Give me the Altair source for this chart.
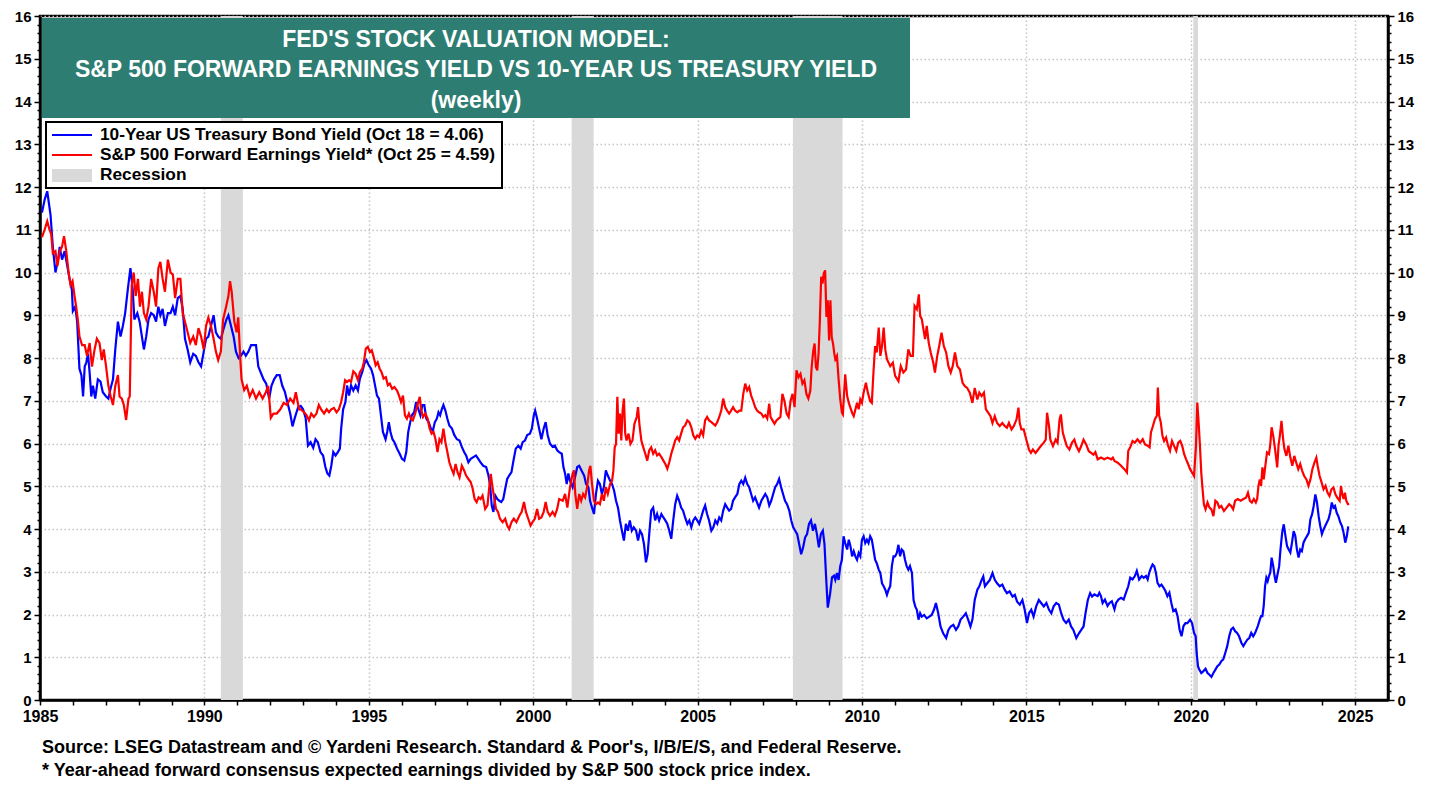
import altair as alt
import pandas as pd

FONT = "Liberation Sans"

# ---------------- data ----------------
bond_years = [
    1985.06, 1985.14, 1985.22, 1985.32, 1985.39, 1985.47, 1985.55, 1985.6, 1985.67, 1985.75, 1985.83, 1985.9, 1985.97,
    1986.0, 1986.07, 1986.13, 1986.2, 1986.26, 1986.31, 1986.36, 1986.41, 1986.46, 1986.51, 1986.56, 1986.61, 1986.68,
    1986.76, 1986.84, 1986.91, 1987.01, 1987.08, 1987.15, 1987.22, 1987.29, 1987.37, 1987.45, 1987.52, 1987.59, 1987.67,
    1987.75, 1987.82, 1987.87, 1987.96, 1988.03, 1988.1, 1988.16, 1988.23, 1988.3, 1988.38, 1988.46, 1988.53, 1988.6,
    1988.66, 1988.73, 1988.8, 1988.89, 1988.97, 1989.04, 1989.11, 1989.19, 1989.27, 1989.34, 1989.41, 1989.49, 1989.57,
    1989.66, 1989.74, 1989.82, 1989.9, 1989.98, 1990.05, 1990.12, 1990.2, 1990.28, 1990.35, 1990.42, 1990.5, 1990.59,
    1990.67, 1990.73, 1990.81, 1990.89, 1990.96, 1991.04, 1991.11, 1991.19, 1991.26, 1991.34, 1991.42, 1991.5, 1991.57,
    1991.64, 1991.72, 1991.8, 1991.88, 1991.97, 1992.04, 1992.12, 1992.2, 1992.29, 1992.37, 1992.45, 1992.53, 1992.61,
    1992.68, 1992.75, 1992.85,
    1992.93, 1993.0, 1993.08, 1993.15, 1993.23, 1993.31, 1993.38, 1993.45, 1993.53, 1993.61, 1993.68, 1993.74, 1993.8,
    1993.86, 1993.92, 1993.99, 1994.06, 1994.12, 1994.16, 1994.22, 1994.29, 1994.34, 1994.4, 1994.46, 1994.53, 1994.6,
    1994.67, 1994.73, 1994.8, 1994.87, 1994.93, 1995.0, 1995.07, 1995.13, 1995.19, 1995.25, 1995.31, 1995.37, 1995.43,
    1995.51, 1995.56, 1995.61, 1995.66, 1995.72, 1995.78, 1995.86, 1995.94, 1996.01, 1996.08, 1996.14, 1996.2, 1996.26,
    1996.31, 1996.38, 1996.44, 1996.51, 1996.57, 1996.63, 1996.69, 1996.75, 1996.82, 1996.89, 1996.95, 1997.01, 1997.07,
    1997.12, 1997.17, 1997.22, 1997.27, 1997.33, 1997.39, 1997.45, 1997.53, 1997.6, 1997.68, 1997.76, 1997.83, 1997.9,
    1997.96, 1998.03, 1998.1, 1998.18, 1998.26, 1998.33, 1998.4, 1998.48, 1998.57, 1998.64, 1998.69, 1998.74, 1998.79,
    1998.85, 1998.91, 1998.97, 1999.03, 1999.09, 1999.15, 1999.21, 1999.27, 1999.34, 1999.41, 1999.47, 1999.55, 1999.62,
    1999.68, 1999.75, 1999.82, 1999.9, 1999.96, 2000.02, 2000.06, 2000.12, 2000.18, 2000.25, 2000.32, 2000.38, 2000.44,
    2000.51, 2000.59, 2000.66, 2000.73, 2000.79,
    2000.87, 2000.92, 2000.97, 2001.02, 2001.07, 2001.12, 2001.2, 2001.27, 2001.34, 2001.4, 2001.47, 2001.55, 2001.61,
    2001.68, 2001.73, 2001.79, 2001.85, 2001.91, 2001.97, 2002.03, 2002.09, 2002.15, 2002.21, 2002.27, 2002.34, 2002.4,
    2002.46, 2002.52, 2002.58, 2002.64, 2002.7, 2002.76, 2002.82, 2002.88, 2002.94, 2003.0, 2003.06, 2003.13, 2003.19,
    2003.25, 2003.31, 2003.37, 2003.43, 2003.48, 2003.53, 2003.59, 2003.65, 2003.71, 2003.77, 2003.83, 2003.9, 2003.96,
    2004.02, 2004.08, 2004.14, 2004.2, 2004.26, 2004.32, 2004.38, 2004.44, 2004.5, 2004.56, 2004.62, 2004.69, 2004.75,
    2004.81, 2004.87, 2004.93, 2004.99, 2005.05, 2005.11, 2005.17, 2005.23, 2005.29, 2005.35, 2005.42, 2005.48, 2005.54,
    2005.6, 2005.66, 2005.72, 2005.78, 2005.84, 2005.9, 2005.96, 2006.02, 2006.08, 2006.14, 2006.21, 2006.27, 2006.33,
    2006.39, 2006.45, 2006.51, 2006.57, 2006.63, 2006.69, 2006.75, 2006.81, 2006.87, 2006.94, 2007.0, 2007.06, 2007.12,
    2007.18, 2007.24, 2007.3, 2007.36, 2007.42, 2007.48, 2007.54, 2007.6, 2007.66, 2007.72, 2007.79, 2007.85, 2007.91,
    2007.97, 2008.03, 2008.09, 2008.15, 2008.21, 2008.27, 2008.33, 2008.39, 2008.45, 2008.51, 2008.57, 2008.63, 2008.69,
    2008.75, 2008.81, 2008.86, 2008.91, 2008.96, 2009.03, 2009.09, 2009.15,
    2009.19, 2009.24, 2009.29, 2009.34, 2009.39, 2009.44, 2009.49, 2009.55, 2009.6, 2009.65, 2009.7, 2009.75, 2009.8,
    2009.85, 2009.9, 2009.95, 2010.0, 2010.05, 2010.1, 2010.15, 2010.2, 2010.25, 2010.3, 2010.35, 2010.4, 2010.45,
    2010.51, 2010.56, 2010.61, 2010.66, 2010.71, 2010.76, 2010.81, 2010.86, 2010.91, 2010.96, 2011.01, 2011.06, 2011.11,
    2011.16, 2011.21, 2011.26, 2011.31, 2011.36, 2011.41, 2011.46, 2011.52, 2011.57, 2011.62, 2011.67, 2011.72, 2011.77,
    2011.82, 2011.89, 2011.97, 2012.05, 2012.12, 2012.19, 2012.25, 2012.32, 2012.39, 2012.47, 2012.56, 2012.63, 2012.7,
    2012.78, 2012.86, 2012.93, 2013.0, 2013.08, 2013.16, 2013.23, 2013.3, 2013.36, 2013.43, 2013.51, 2013.57, 2013.64,
    2013.69, 2013.74, 2013.81, 2013.89, 2013.97, 2014.04, 2014.11, 2014.19, 2014.27, 2014.34, 2014.41, 2014.49, 2014.58,
    2014.65, 2014.72, 2014.8, 2014.88, 2014.95, 2015.02, 2015.08, 2015.15, 2015.22, 2015.3, 2015.38, 2015.45, 2015.53,
    2015.61, 2015.69, 2015.76, 2015.83, 2015.91, 2015.99, 2016.06, 2016.13, 2016.21, 2016.29, 2016.36, 2016.43, 2016.52,
    2016.6, 2016.67, 2016.74, 2016.8, 2016.87, 2016.94, 2017.0,
    2017.07, 2017.17, 2017.22, 2017.27, 2017.32, 2017.39, 2017.47, 2017.53, 2017.6, 2017.68, 2017.73, 2017.8, 2017.88,
    2017.96, 2018.03, 2018.1, 2018.16, 2018.23, 2018.3, 2018.36, 2018.43, 2018.51, 2018.57, 2018.64, 2018.69, 2018.74,
    2018.79, 2018.84, 2018.89, 2018.94, 2018.99, 2019.05, 2019.11, 2019.17, 2019.23, 2019.29, 2019.35, 2019.41, 2019.47,
    2019.54, 2019.6, 2019.66, 2019.72, 2019.78, 2019.84, 2019.9, 2019.98, 2020.04, 2020.1, 2020.15, 2020.18, 2020.22,
    2020.26, 2020.32, 2020.38, 2020.45, 2020.51, 2020.57, 2020.63, 2020.69, 2020.75, 2020.81, 2020.87, 2020.93, 2020.99,
    2021.05, 2021.11, 2021.17, 2021.23, 2021.29, 2021.35, 2021.41, 2021.47, 2021.54, 2021.6, 2021.66, 2021.72, 2021.78,
    2021.84, 2021.9, 2021.96, 2022.04, 2022.1, 2022.14, 2022.18, 2022.22, 2022.26, 2022.3, 2022.34, 2022.38, 2022.42,
    2022.46, 2022.51, 2022.55, 2022.59, 2022.63, 2022.69, 2022.73, 2022.78, 2022.83, 2022.88, 2022.93, 2022.98, 2023.03,
    2023.08, 2023.13, 2023.18, 2023.23, 2023.28, 2023.33, 2023.38, 2023.43, 2023.48, 2023.54, 2023.59, 2023.64, 2023.69,
    2023.74, 2023.79, 2023.84, 2023.89, 2023.94, 2023.99, 2024.04, 2024.09, 2024.14, 2024.19, 2024.24, 2024.29, 2024.34,
    2024.39, 2024.44, 2024.49, 2024.55, 2024.6, 2024.65, 2024.7, 2024.75, 2024.79,
]
bond_vals = [
    11.4, 11.7, 11.9, 11.35, 10.6, 10.0, 10.3, 10.6, 10.3, 10.5, 10.15, 9.85, 9.6,
    9.1, 9.2, 8.85, 7.75, 7.6, 7.1, 7.8, 7.9, 8.1, 7.65, 7.1, 7.35, 7.05,
    7.5, 7.45, 7.2, 7.1, 7.05, 7.3, 7.5, 8.2, 8.85, 8.5, 8.75, 9.05, 9.6,
    10.1, 9.6, 8.9, 9.05, 8.85, 8.5, 8.2, 8.5, 8.9, 9.05, 9.0, 8.85, 9.2,
    9.0, 9.15, 8.75, 9.05, 9.05, 9.2, 9.0, 9.4, 9.45, 9.15, 8.45, 8.2, 7.9,
    8.1, 8.05, 7.9, 7.8, 8.15, 8.45, 8.5, 8.75, 9.0, 8.6, 8.5, 8.45, 8.7,
    8.9, 9.0, 8.75, 8.5, 8.15, 8.0, 8.05, 8.15, 8.05, 8.15, 8.3, 8.3, 8.3,
    7.8, 7.65, 7.5, 7.4, 7.05, 7.35, 7.5, 7.6, 7.6, 7.35, 7.2, 6.95, 6.7,
    6.4, 6.6, 6.85,
    6.88, 6.8, 6.6, 5.95, 6.03, 5.9, 6.1, 6.03, 5.8, 5.72, 5.45, 5.3, 5.25,
    5.48, 5.8, 5.72, 5.8, 5.88, 6.35, 6.8, 6.97, 7.36, 7.12, 7.36, 7.24, 7.36,
    7.24, 7.52, 7.67, 7.87, 7.95, 7.83, 7.75, 7.6, 7.36, 7.12, 7.05, 6.66, 6.27,
    6.1, 6.27, 6.5, 6.27, 6.1, 6.03, 5.88, 5.76, 5.64, 5.6, 5.8, 6.27, 6.5,
    6.66, 6.73, 6.97, 6.8, 6.66, 6.9, 6.9, 6.58, 6.5, 6.35, 6.3, 6.5, 6.58,
    6.73, 6.66, 6.8, 6.9, 6.77, 6.58, 6.42, 6.35, 6.2, 6.1, 6.07, 5.92, 5.8,
    5.72, 5.56, 5.64, 5.68, 5.72, 5.64, 5.56, 5.48, 5.45, 5.25, 5.02, 4.55, 4.4,
    4.78, 4.7, 4.66, 4.63, 4.7, 4.94, 5.17, 5.25, 5.33, 5.64, 5.88, 5.95, 5.88,
    6.03, 6.07, 6.2, 6.23, 6.35, 6.66, 6.77, 6.58, 6.35, 6.1, 6.35, 6.5, 6.2,
    6.0, 5.92, 5.95, 5.84, 5.8,
    5.76, 5.45, 5.3, 5.05, 5.3, 5.13, 4.98, 5.2, 5.45, 5.48, 5.37, 5.25, 5.05,
    4.98, 4.66, 4.5, 4.35, 4.82, 5.13, 5.05, 4.82, 4.98, 5.37, 5.25, 5.13, 5.05,
    4.9, 4.66, 4.5, 4.2, 3.96, 3.73, 4.12, 3.96, 4.2, 3.96, 4.04, 3.96, 3.73,
    3.96, 3.88, 3.65, 3.22, 3.41, 3.88, 4.43, 4.5, 4.2, 4.35, 4.2, 4.35, 4.27,
    4.2, 4.12, 3.96, 3.77, 4.2, 4.58, 4.78, 4.66, 4.5, 4.43, 4.27, 4.12, 4.2,
    4.04, 4.2, 4.27, 4.2, 4.12, 4.27, 4.43, 4.55, 4.35, 4.2, 3.96, 4.04, 4.2,
    4.12, 4.27, 4.2, 4.43, 4.58, 4.5, 4.43, 4.47, 4.66, 4.74, 4.82, 5.05, 5.13,
    5.05, 5.2, 5.05, 4.98, 4.82, 4.66, 4.74, 4.62, 4.5, 4.66, 4.74, 4.82, 4.74,
    4.55, 4.66, 4.82, 4.98, 5.05, 5.17, 4.98, 4.82, 4.66, 4.58, 4.43, 4.2, 4.04,
    3.96, 3.88, 3.65, 3.41, 3.57, 3.8, 3.88, 4.12, 4.2, 3.96, 4.12, 3.88, 3.57,
    3.88, 3.96, 3.65, 2.87, 2.16, 2.48, 2.87, 2.91,
    2.81, 2.97, 2.81, 3.13, 3.28, 3.83, 3.67, 3.52, 3.75, 3.6, 3.36, 3.48, 3.36,
    3.28, 3.44, 3.36, 3.75, 3.83, 3.67, 3.75, 3.67, 3.83, 3.75, 3.52, 3.28, 3.2,
    3.05, 2.97, 2.73, 2.66, 2.58, 2.46, 2.58, 2.66, 3.13, 3.36, 3.36, 3.44, 3.63,
    3.36, 3.52, 3.48, 3.28, 3.13, 3.05, 3.13, 2.97, 2.34, 2.19, 2.11, 1.88, 2.03,
    1.95, 1.99, 1.91, 1.95, 1.99, 2.11, 2.27, 2.03, 1.72, 1.56, 1.45, 1.64, 1.72,
    1.76, 1.64, 1.72, 1.88, 1.95, 2.03, 1.88, 1.72, 1.88, 2.34, 2.58, 2.66, 2.81,
    2.89, 2.66, 2.73, 2.81, 2.97, 2.81, 2.73, 2.66, 2.7, 2.58, 2.5, 2.54, 2.42,
    2.46, 2.3, 2.23, 2.34, 2.11, 1.8, 2.03, 2.11, 1.95, 2.19, 2.34, 2.27, 2.19,
    2.27, 2.11, 2.03, 2.19, 2.27, 2.23, 2.03, 1.88, 1.8, 1.88, 1.72, 1.64, 1.45,
    1.56, 1.64, 1.72, 2.03, 2.34, 2.5, 2.42,
    2.47, 2.43, 2.51, 2.43, 2.27, 2.35, 2.2, 2.27, 2.31, 2.12, 2.27, 2.35, 2.39,
    2.35, 2.51, 2.66, 2.86, 2.82, 2.9, 3.02, 2.82, 2.9, 2.86, 2.9, 2.82, 2.98,
    3.09, 3.17, 3.13, 2.98, 2.74, 2.66, 2.7, 2.63, 2.55, 2.43, 2.51, 2.27, 2.08,
    2.12, 1.96, 1.65, 1.49, 1.73, 1.8, 1.8, 1.88, 1.8, 1.57, 1.49, 1.1, 0.79,
    0.71, 0.63, 0.67, 0.73, 0.63, 0.59, 0.54, 0.63, 0.71, 0.79, 0.83, 0.91, 0.95,
    1.1, 1.26, 1.49, 1.65, 1.69, 1.61, 1.57, 1.49, 1.34, 1.26, 1.34, 1.41, 1.45,
    1.57, 1.49, 1.57, 1.73, 1.88, 1.96, 1.96, 2.2, 2.66, 2.86, 2.78, 2.9, 2.98,
    3.33, 3.13, 2.9, 2.74, 2.9, 3.13, 3.52, 3.91, 4.11, 3.84, 3.6, 3.52, 3.45,
    3.68, 3.95, 3.84, 3.52, 3.33, 3.52, 3.48, 3.68, 3.76, 3.84, 3.91, 4.23, 4.34,
    4.54, 4.81, 4.62, 4.3, 4.07, 3.88, 3.99, 4.07, 4.15, 4.23, 4.38, 4.62, 4.5,
    4.54, 4.38, 4.3, 4.15, 4.07, 3.91, 3.68, 3.84, 4.06,
]

eps_years = [
    1985.06, 1985.14, 1985.22, 1985.29, 1985.34, 1985.39, 1985.47, 1985.53, 1985.6, 1985.67, 1985.73, 1985.8, 1985.87,
    1985.93, 1985.99, 1986.05, 1986.1, 1986.15, 1986.2, 1986.28, 1986.36, 1986.43, 1986.51, 1986.58, 1986.66, 1986.73,
    1986.81, 1986.88, 1986.94, 1987.01, 1987.08, 1987.15, 1987.22, 1987.29, 1987.37, 1987.42, 1987.49, 1987.55, 1987.62,
    1987.69, 1987.73, 1987.79, 1987.85, 1987.91, 1987.98, 1988.04, 1988.1, 1988.16, 1988.23, 1988.3, 1988.38, 1988.46,
    1988.53, 1988.6, 1988.66, 1988.73, 1988.8, 1988.89, 1988.97, 1989.04, 1989.11, 1989.19, 1989.27, 1989.34, 1989.41,
    1989.49, 1989.57, 1989.66, 1989.74, 1989.82, 1989.9, 1989.98, 1990.05, 1990.12, 1990.2, 1990.28, 1990.35, 1990.42,
    1990.5, 1990.57, 1990.66, 1990.73, 1990.78, 1990.83, 1990.91, 1990.98, 1991.03, 1991.09, 1991.13, 1991.21, 1991.29,
    1991.38, 1991.47, 1991.57, 1991.67, 1991.77, 1991.87, 1991.94, 1992.02, 1992.1, 1992.2, 1992.31, 1992.41, 1992.51,
    1992.61, 1992.71, 1992.78, 1992.88,
    1992.93, 1993.03, 1993.11, 1993.18, 1993.25, 1993.33, 1993.41, 1993.48, 1993.55, 1993.64, 1993.72, 1993.79, 1993.86,
    1993.94, 1994.02, 1994.09, 1994.16, 1994.22, 1994.28, 1994.34, 1994.4, 1994.46, 1994.53, 1994.6, 1994.67, 1994.73,
    1994.8, 1994.85, 1994.91, 1994.97, 1995.03, 1995.09, 1995.15, 1995.21, 1995.27, 1995.33, 1995.39, 1995.45, 1995.52,
    1995.58, 1995.64, 1995.71, 1995.78, 1995.86, 1995.92, 1995.98, 1996.04, 1996.1, 1996.16, 1996.22, 1996.28, 1996.34,
    1996.41, 1996.48, 1996.55, 1996.59, 1996.65, 1996.72, 1996.79, 1996.85, 1996.91, 1996.97, 1997.03, 1997.09, 1997.15,
    1997.21, 1997.27, 1997.33, 1997.39, 1997.45, 1997.52, 1997.58, 1997.64, 1997.7, 1997.76, 1997.83, 1997.9, 1997.96,
    1998.03, 1998.1, 1998.16, 1998.22, 1998.28, 1998.34, 1998.4, 1998.46, 1998.54, 1998.61, 1998.67, 1998.71, 1998.77,
    1998.82, 1998.87, 1998.93, 1998.99, 1999.07, 1999.15, 1999.21, 1999.27, 1999.34, 1999.41, 1999.49, 1999.58, 1999.65,
    1999.72, 1999.78, 1999.85, 1999.92, 1999.98, 2000.05, 2000.12, 2000.18, 2000.25, 2000.32, 2000.38, 2000.44, 2000.51,
    2000.59, 2000.66, 2000.73, 2000.79,
    2000.9, 2000.97, 2001.04, 2001.12, 2001.2, 2001.24, 2001.28, 2001.34, 2001.4, 2001.46, 2001.52, 2001.58, 2001.64,
    2001.7, 2001.74, 2001.79, 2001.85, 2001.91, 2001.97, 2002.03, 2002.09, 2002.15, 2002.21, 2002.27, 2002.34, 2002.4,
    2002.44, 2002.48, 2002.52, 2002.56, 2002.6, 2002.64, 2002.68, 2002.72, 2002.76, 2002.8, 2002.84, 2002.9, 2002.96,
    2003.02, 2003.08, 2003.15, 2003.19, 2003.23, 2003.29, 2003.35, 2003.41, 2003.47, 2003.53, 2003.59, 2003.65, 2003.71,
    2003.77, 2003.83, 2003.9, 2003.96, 2004.02, 2004.08, 2004.14, 2004.2, 2004.26, 2004.32, 2004.38, 2004.44, 2004.5,
    2004.56, 2004.62, 2004.69, 2004.75, 2004.81, 2004.87, 2004.93, 2004.99, 2005.05, 2005.11, 2005.17, 2005.23, 2005.29,
    2005.35, 2005.42, 2005.48, 2005.54, 2005.6, 2005.66, 2005.72, 2005.78, 2005.84, 2005.9, 2005.96, 2006.02, 2006.08,
    2006.14, 2006.21, 2006.27, 2006.33, 2006.39, 2006.45, 2006.51, 2006.57, 2006.63, 2006.69, 2006.75, 2006.81, 2006.87,
    2006.94, 2007.0, 2007.06, 2007.12, 2007.18, 2007.22, 2007.28, 2007.34, 2007.4, 2007.46, 2007.52, 2007.58, 2007.64,
    2007.71, 2007.77, 2007.83, 2007.89, 2007.95, 2008.01, 2008.07, 2008.13, 2008.19, 2008.25, 2008.31, 2008.37, 2008.43,
    2008.47, 2008.52, 2008.56, 2008.6, 2008.64, 2008.68, 2008.72, 2008.76, 2008.8, 2008.84, 2008.88, 2008.92, 2008.96,
    2009.0, 2009.04, 2009.08, 2009.12, 2009.16,
    2009.19, 2009.24, 2009.29, 2009.34, 2009.39, 2009.42, 2009.49, 2009.55, 2009.6, 2009.7, 2009.75, 2009.85, 2009.9,
    2009.95, 2010.0, 2010.05, 2010.12, 2010.18, 2010.25, 2010.3, 2010.35, 2010.4, 2010.45, 2010.51, 2010.56, 2010.61,
    2010.66, 2010.71, 2010.76, 2010.86, 2010.94, 2011.01, 2011.11, 2011.18, 2011.26, 2011.34, 2011.41, 2011.48, 2011.55,
    2011.6, 2011.67, 2011.73, 2011.77, 2011.82, 2011.87, 2011.92, 2011.97, 2012.03, 2012.09, 2012.17, 2012.22, 2012.29,
    2012.35, 2012.42, 2012.49, 2012.56, 2012.63, 2012.7, 2012.76, 2012.83, 2012.9, 2012.98, 2013.06, 2013.13, 2013.2,
    2013.28, 2013.36, 2013.43, 2013.51, 2013.57, 2013.64, 2013.71, 2013.77, 2013.84, 2013.91, 2013.97, 2014.04, 2014.11,
    2014.19, 2014.27, 2014.34, 2014.41, 2014.47, 2014.55, 2014.62, 2014.7, 2014.76, 2014.8, 2014.85, 2014.92, 2015.0,
    2015.08, 2015.14, 2015.2, 2015.28, 2015.36, 2015.44, 2015.53, 2015.59, 2015.63, 2015.69, 2015.73, 2015.81, 2015.89,
    2015.95, 2016.01, 2016.05, 2016.11, 2016.17, 2016.23, 2016.31, 2016.39, 2016.46, 2016.52, 2016.6, 2016.67, 2016.74,
    2016.82, 2016.9, 2016.97, 2017.04,
    2017.1, 2017.17, 2017.27, 2017.37, 2017.47, 2017.58, 2017.63, 2017.68, 2017.78, 2017.88, 2017.98, 2018.06, 2018.1,
    2018.16, 2018.23, 2018.3, 2018.38, 2018.46, 2018.54, 2018.61, 2018.69, 2018.75, 2018.79, 2018.85, 2018.91, 2018.97,
    2019.0, 2019.04, 2019.09, 2019.14, 2019.19, 2019.25, 2019.31, 2019.37, 2019.43, 2019.49, 2019.56, 2019.62, 2019.68,
    2019.74, 2019.8, 2019.86, 2019.92, 2019.98, 2020.04, 2020.1, 2020.16, 2020.2, 2020.24, 2020.28, 2020.32, 2020.36,
    2020.4, 2020.45, 2020.51, 2020.57, 2020.63, 2020.69, 2020.75, 2020.81, 2020.87, 2020.93, 2021.01, 2021.09, 2021.17,
    2021.23, 2021.29, 2021.35, 2021.43, 2021.52, 2021.6, 2021.68, 2021.74, 2021.8, 2021.86, 2021.92, 2021.98, 2022.02,
    2022.06, 2022.1, 2022.14, 2022.18, 2022.22, 2022.27, 2022.32, 2022.38, 2022.42, 2022.46, 2022.51, 2022.55, 2022.59,
    2022.63, 2022.67, 2022.71, 2022.76, 2022.81, 2022.85, 2022.91, 2022.97, 2023.03, 2023.09, 2023.15, 2023.21, 2023.27,
    2023.33, 2023.39, 2023.45, 2023.52, 2023.58, 2023.64, 2023.7, 2023.76, 2023.82, 2023.86, 2023.92, 2023.98, 2024.04,
    2024.1, 2024.16, 2024.22, 2024.28, 2024.34, 2024.4, 2024.46, 2024.53, 2024.57, 2024.61, 2024.65, 2024.69, 2024.73,
    2024.78, 2024.82,
]
eps_vals = [
    10.83, 11.0, 11.2, 11.0, 10.9, 10.45, 10.5, 10.15, 10.5, 10.6, 10.85, 10.5, 10.0,
    9.7, 9.8, 9.45, 9.2, 8.9, 8.5, 8.3, 8.3, 8.05, 8.35, 7.8, 8.2, 8.45,
    8.35, 7.95, 8.2, 7.8, 7.35, 7.1, 6.9, 7.35, 7.6, 7.1, 7.05, 6.9, 6.55,
    7.05, 7.1, 9.7, 10.0, 9.45, 9.85, 9.2, 9.55, 9.05, 8.9, 9.2, 9.85, 9.55,
    9.2, 10.1, 10.25, 9.85, 9.55, 10.3, 10.0, 9.95, 9.4, 9.85, 9.85, 9.05, 8.85,
    8.6, 8.35, 8.5, 8.3, 8.7, 8.5, 8.2, 8.75, 8.95, 8.75, 8.45, 8.15, 7.95,
    8.15, 8.9, 9.2, 9.45, 9.8, 9.55, 8.85, 8.6, 8.95, 8.0, 7.5, 7.25, 7.35,
    7.1, 7.25, 7.05, 7.2, 7.05, 7.2, 7.35, 6.6, 6.7, 6.7, 6.8, 6.95, 6.9,
    7.05, 6.95, 7.2, 6.8,
    6.8, 6.73, 6.66, 6.54, 6.7, 6.62, 6.7, 6.9, 6.8, 6.7, 6.8, 6.73, 6.8,
    6.83, 6.73, 6.8, 6.97, 7.2, 7.48, 7.44, 7.48, 7.44, 7.69, 7.63, 7.48, 7.67,
    7.75, 7.9, 8.22, 8.26, 8.14, 8.18, 8.02, 7.83, 7.9, 7.75, 7.67, 7.52, 7.55,
    7.36, 7.4, 7.28, 7.32, 7.24, 7.12, 6.97, 7.12, 6.66, 6.58, 6.7, 6.58, 6.54,
    6.7, 6.9, 7.09, 6.8, 6.62, 6.7, 6.58, 6.35, 6.23, 6.27, 6.1, 5.8, 6.1,
    6.03, 6.35, 6.03, 5.8, 5.56, 5.4, 5.29, 5.52, 5.33, 5.21, 5.48, 5.37, 5.25,
    5.17, 5.1, 4.94, 4.7, 4.63, 4.74, 4.7, 4.78, 4.47, 4.55, 5.02, 5.29, 4.94,
    4.7, 4.47, 4.4, 4.24, 4.16, 4.24, 4.08, 4.0, 4.16, 4.24, 4.16, 4.31, 4.4,
    4.63, 4.4, 4.24, 4.08, 4.16, 4.24, 4.47, 4.24, 4.27, 4.4, 4.63, 4.4, 4.31,
    4.4, 4.31, 4.47, 4.7,
    4.66, 4.82, 4.5, 4.98, 5.29, 5.37, 4.82, 4.47, 4.82, 4.66, 4.82, 4.74, 4.98,
    5.37, 5.48, 5.05, 4.66, 4.58, 4.62, 4.58, 4.82, 4.66, 4.98, 4.82, 5.05, 5.13,
    5.37, 5.91, 5.99, 7.09, 6.23, 6.7, 6.07, 6.77, 7.05, 6.23, 6.07, 6.23, 5.99,
    6.07, 6.46, 6.62, 6.85, 6.46, 6.07, 5.91, 5.76, 5.6, 5.84, 5.91, 5.76, 5.84,
    5.72, 5.76, 5.68, 5.6, 5.52, 5.41, 5.56, 5.76, 5.91, 6.07, 6.15, 6.07, 6.23,
    6.38, 6.42, 6.54, 6.5, 6.38, 6.19, 6.11, 6.19, 6.15, 6.3, 6.19, 6.54, 6.62,
    6.54, 6.5, 6.46, 6.42, 6.5, 6.62, 6.77, 7.05, 6.85, 6.77, 6.7, 6.77, 6.85,
    6.77, 6.73, 6.77, 6.77, 7.16, 7.4, 7.24, 7.32, 7.12, 7.0, 6.85, 6.77, 6.73,
    6.7, 6.62, 6.66, 6.58, 6.93, 6.62, 6.54, 6.46, 6.54, 6.58, 6.62, 7.16, 7.0,
    6.7, 6.62, 7.0, 7.16, 6.85, 7.71, 7.55, 7.63, 7.4, 7.48, 7.16, 7.05, 7.24,
    7.79, 8.18, 8.34, 7.79, 7.71, 8.1, 8.88, 9.9, 9.74, 9.98, 10.05, 8.96, 9.35,
    8.41, 9.35, 8.49, 8.34, 8.1,
    7.97, 8.05, 7.5, 7.03, 6.72, 6.68, 7.62, 7.11, 6.95, 6.72, 6.64, 6.95, 6.8,
    7.03, 6.95, 7.19, 7.42, 7.19, 6.99, 6.95, 7.66, 8.28, 8.13, 8.71, 8.05, 8.28,
    8.71, 8.2, 7.97, 7.81, 7.89, 7.58, 7.46, 7.81, 7.66, 7.73, 8.2, 8.05, 8.05,
    9.22, 9.14, 9.49, 8.98, 8.91, 8.67, 8.44, 8.75, 8.36, 8.13, 7.89, 7.66, 8.05,
    8.28, 8.59, 8.28, 8.13, 7.81, 7.66, 7.81, 8.13, 7.81, 7.73, 7.42, 7.34, 7.3,
    7.19, 6.95, 7.3, 7.03, 7.19, 7.11, 7.19, 6.8, 6.72, 6.64, 6.48, 6.64, 6.48,
    6.41, 6.48, 6.41, 6.37, 6.48, 6.33, 6.41, 6.56, 6.84, 6.48, 6.33, 6.33, 6.09,
    5.86, 5.78, 5.86, 5.78, 5.86, 5.94, 6.02, 6.09, 6.72, 6.41, 6.09, 5.94, 6.09,
    6.02, 6.56, 6.68, 6.25, 6.09, 5.94, 5.86, 6.02, 6.09, 5.94, 5.82, 5.94, 6.09,
    5.98, 5.82, 5.78, 5.74,
    5.8, 5.63, 5.67, 5.63, 5.67, 5.63, 5.67, 5.59, 5.55, 5.48, 5.4, 5.32, 5.83,
    5.91, 6.06, 6.02, 6.1, 6.02, 6.1, 5.98, 5.95, 5.91, 6.26, 6.41, 6.57, 6.65,
    7.31, 6.65, 6.49, 6.18, 6.06, 6.14, 5.95, 5.83, 6.06, 5.95, 5.83, 6.02, 6.06,
    5.95, 5.75, 5.63, 5.52, 5.4, 5.32, 5.24, 5.95, 6.96, 6.49, 5.95, 5.32, 4.93,
    4.58, 4.46, 4.62, 4.5, 4.46, 4.3, 4.66, 4.62, 4.5, 4.54, 4.42, 4.5, 4.58,
    4.54, 4.46, 4.66, 4.7, 4.66, 4.7, 4.73, 4.85, 4.66, 4.62, 4.7, 4.62, 4.7,
    5.01, 5.16, 5.01, 5.44, 5.16, 5.48, 5.79, 5.75, 5.98, 6.38, 6.18, 5.95, 5.71,
    5.44, 5.95, 6.18, 6.53, 6.1, 5.87, 5.71, 5.95, 5.67, 5.48, 5.71, 5.55, 5.4,
    5.52, 5.36, 5.24, 5.16, 5.01, 5.16, 5.4, 5.55, 5.67, 5.48, 5.24, 5.09, 4.93,
    5.01, 4.85, 4.77, 4.93, 4.97, 4.81, 4.73, 4.66, 5.01, 4.81, 4.7, 4.85, 4.66,
    4.58, 4.59,
]

rec_start = [1990.5, 2001.17, 2007.9, 2020.08]
rec_end = [1991.17, 2001.84, 2009.41, 2020.22]

x_tick_years = list(range(1985, 2026))
y_tick_values = [round(i * 0.2, 1) for i in range(81)]

title_lines = [
    "FED'S STOCK VALUATION MODEL:",
    "S&P 500 FORWARD EARNINGS YIELD VS 10-YEAR US TREASURY YIELD",
    "(weekly)",
]
legend_labels = [
    "10-Year US Treasury Bond Yield (Oct 18 = 4.06)",
    "S&P 500 Forward Earnings Yield* (Oct 25 = 4.59)",
    "Recession",
]
footer_lines = [
    "Source: LSEG Datastream and \u00a9 Yardeni Research. Standard & Poor's, I/B/E/S, and Federal Reserve.",
    "* Year-ahead forward consensus expected earnings divided by S&P 500 stock price index.",
]

# ---------------- chart ----------------
W, H = 1348, 684
BLUE, RED, GREY, TEAL = "#0000FF", "#FF0000", "#D9D9D9", "#2E7D72"
GRID = "#C4C4C4"

bond_df = pd.DataFrame({"year": bond_years, "value": bond_vals})
eps_df = pd.DataFrame({"year": eps_years, "value": eps_vals})
rec_df = pd.DataFrame({"start": rec_start, "end": rec_end})
one = pd.DataFrame({"k": [0]})

xscale = alt.Scale(domain=[1985, 2026], nice=False, zero=False)
yscale = alt.Scale(domain=[0, 16], nice=False, zero=True)

is_int = "abs(datum.value - round(datum.value)) < 0.01"

xaxis = alt.Axis(
    values=x_tick_years, format="d", title=None,
    labelExpr="datum.value % 5 === 0 ? datum.label : ''",
    grid=True, gridColor=GRID, gridDash=[1.5, 2.5], gridWidth=1.5,
    gridOpacity={"condition": {"test": "datum.value % 5 === 0", "value": 1}, "value": 0},
    tickSize=5, tickWidth=1.5, tickColor="black",
    domainColor="black", domainWidth=2.5,
    labelFont=FONT, labelFontSize=16, labelFontWeight="bold", labelColor="black",
    labelPadding=3, labelFlush=False, labelOverlap=False, labelBound=False,
)


def yaxis(orient, grid):
    return alt.Axis(
        orient=orient, values=y_tick_values, title=None,
        labelExpr=f"{is_int} ? format(datum.value, 'd') : ''",
        grid=grid, gridColor=GRID, gridDash=[1.5, 2.5], gridWidth=1.5,
        gridOpacity={"condition": {"test": is_int, "value": 1}, "value": 0},
        tickSize={"condition": {"test": is_int, "value": 6}, "value": 3},
        tickWidth=1.5, tickColor="black",
        domainColor="black", domainWidth=2.5,
        labelFont=FONT, labelFontSize=15, labelFontWeight="bold", labelColor="black",
        labelPadding=3, labelFlush=False, labelOverlap=False, labelBound=False,
    )


recess = alt.Chart(rec_df).mark_rect(color=GREY).encode(
    x=alt.X("start:Q", scale=xscale, axis=xaxis),
    x2="end:Q",
    y=alt.value(0), y2=alt.value(H),
)

bond = alt.Chart(bond_df).mark_line(color=BLUE, strokeWidth=2.2).encode(
    x=alt.X("year:Q", scale=xscale, axis=xaxis),
    y=alt.Y("value:Q", scale=yscale, axis=yaxis("left", True)),
)
eps = alt.Chart(eps_df).mark_line(color=RED, strokeWidth=2.2).encode(
    x=alt.X("year:Q", scale=xscale, axis=xaxis),
    y=alt.Y("value:Q", scale=yscale, axis=yaxis("right", False)),
)


def txt(s, x, y, size, color="black", align="left"):
    return alt.Chart(one).mark_text(
        text=s, font=FONT, fontSize=size, fontWeight="bold", color=color,
        align=align, baseline="middle",
    ).encode(x=alt.value(x), y=alt.value(y))


def box(x, x2, y, y2, **kw):
    return alt.Chart(one).mark_rect(**kw).encode(
        x=alt.value(x), x2=alt.value(x2), y=alt.value(y), y2=alt.value(y2))


def hline(x, x2, y, color):
    return alt.Chart(one).mark_rule(color=color, strokeWidth=2).encode(
        x=alt.value(x), x2=alt.value(x2), y=alt.value(y))


deco = [
    box(2, 870, 2, 102, color=TEAL),
    txt(title_lines[0], 436, 24, 23, "white", "center"),
    txt(title_lines[1], 436, 54, 23, "white", "center"),
    txt(title_lines[2], 436, 85, 23, "white", "center"),
    box(6, 462, 106, 172, fill="white", stroke="black", strokeWidth=2),
    hline(12, 52, 119, BLUE),
    hline(12, 52, 139, RED),
    box(12, 52, 153, 166, color=GREY),
    txt(legend_labels[0], 60, 119, 17.3),
    txt(legend_labels[1], 60, 139, 17.3),
    txt(legend_labels[2], 60, 159, 17.3),
    txt(footer_lines[0], 2, 732, 18),
    txt(footer_lines[1], 2, 755, 18),
]

chart = alt.layer(recess, bond, eps, *deco).resolve_axis(y="independent").properties(
    width=W, height=H,
    autosize=alt.AutoSizeParams(type="none"),
    padding={"left": 32, "top": 8, "right": 40, "bottom": 81},
    background="white",
).configure_view(stroke="black", strokeWidth=2.5)

chart.save("out.html", embed_options={"renderer": "svg", "actions": False})
